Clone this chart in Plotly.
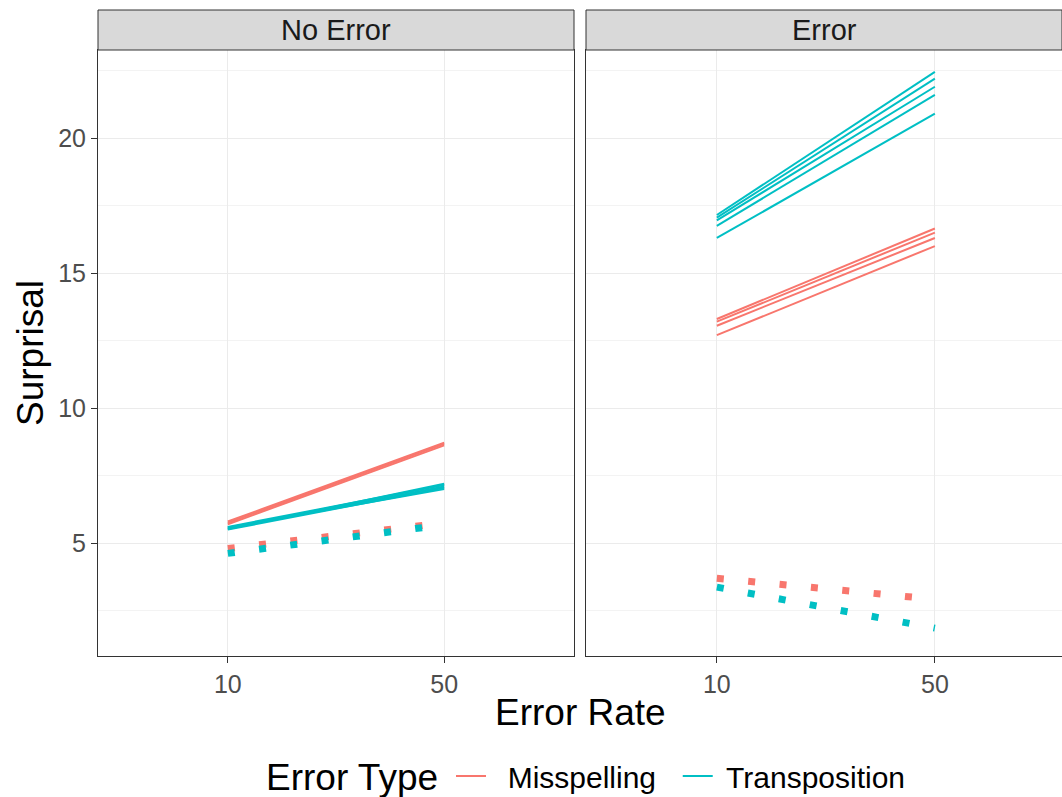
import plotly.graph_objects as go

# ---- data ----
error_rates = ["10", "50"]
panels = ["No Error", "Error"]
error_types = ["Misspelling", "Transposition"]

# solid lines (one list of [at 10, at 50] per line)
noerr_missp_solid = [[5.70, 8.62], [5.75, 8.68], [5.80, 8.72]]
noerr_trans_solid = [[5.50, 7.05], [5.55, 7.10], [5.60, 7.15], [5.52, 7.20], [5.58, 7.00]]
err_missp_solid = [[13.30, 16.65], [13.20, 16.50], [13.05, 16.30], [12.70, 16.00]]
err_trans_solid = [[17.15, 22.45], [17.05, 22.20], [16.95, 21.90], [16.75, 21.60], [16.30, 20.90]]

# dotted lines
noerr_missp_dot = [[4.80, 5.75]]
noerr_trans_dot = [[4.62, 5.68]]
err_missp_dot = [[3.70, 2.92]]
err_trans_dot = [[3.37, 1.85]]

colors = {"Misspelling": "#F8766D", "Transposition": "#00BFC4"}
legend_names = {"Misspelling": "\u00a0\u00a0Misspelling\u00a0\u00a0",
                "Transposition": "\u00a0Transposition"}
FONT = "Liberation Sans"

fig = go.Figure()
shown = set()


def add_lines(series, etype, xa, ya, dotted):
    for vals in series:
        show = (not dotted) and (etype not in shown)
        if show:
            shown.add(etype)
        if dotted:
            line = dict(color=colors[etype], width=7, dash="7px,24.5px")
        else:
            line = dict(color=colors[etype], width=2)
        fig.add_trace(go.Scatter(
            x=error_rates, y=vals, mode="lines", line=line,
            name=legend_names[etype], legendgroup=etype, showlegend=show,
            xaxis=xa, yaxis=ya, hoverinfo="skip"))


add_lines(noerr_missp_dot, "Misspelling", "x", "y", True)
add_lines(noerr_trans_dot, "Transposition", "x", "y", True)
add_lines(noerr_missp_solid, "Misspelling", "x", "y", False)
add_lines(noerr_trans_solid, "Transposition", "x", "y", False)
add_lines(err_missp_dot, "Misspelling", "x2", "y2", True)
add_lines(err_trans_dot, "Transposition", "x2", "y2", True)
add_lines(err_missp_solid, "Misspelling", "x2", "y2", False)
add_lines(err_trans_solid, "Transposition", "x2", "y2", False)

W, H = 1062, 797
ML, MR, MT, MB = 98, 0, 50, 141
plot_w = W - ML - MR
plot_h = H - MT - MB
d1_end = 476 / plot_w
d2_start = 488 / plot_w

grid = "#EBEBEB"
border = "#333333"
tickc = "#4D4D4D"

xcommon = dict(type="category", showgrid=True, gridcolor=grid, gridwidth=1.2,
               showline=True, linecolor=border, linewidth=1, mirror=True,
               ticks="outside", ticklen=6, tickcolor=border,
               tickfont=dict(family=FONT, size=25, color=tickc), zeroline=False,
               automargin=False)
ycommon = dict(range=[0.82, 23.26], tickvals=[5, 10, 15, 20],
               showgrid=True, gridcolor=grid, gridwidth=1.2,
               minor=dict(tickvals=[2.5, 7.5, 12.5, 17.5, 22.5], showgrid=True,
                          gridcolor="#F3F3F3", gridwidth=0.8, ticks=""),
               showline=True, linecolor=border, linewidth=1, mirror=True,
               zeroline=False, tickcolor=border, ticklen=6,
               tickfont=dict(family=FONT, size=25, color=tickc), automargin=False)

fig.update_layout(
    width=W, height=H,
    margin=dict(l=ML, r=MR, t=MT, b=MB, autoexpand=False),
    plot_bgcolor="white", paper_bgcolor="white",
    font=dict(family=FONT, color="black"),
    xaxis=dict(domain=[0, d1_end], range=[-0.6, 1.6], **xcommon),
    xaxis2=dict(domain=[d2_start, 1], range=[-0.6, 1.583], anchor="y2", **xcommon),
    yaxis=dict(domain=[0, 1], ticks="outside", **ycommon),
    yaxis2=dict(domain=[0, 1], anchor="x2", ticks="", showticklabels=False, **ycommon),
    legend=dict(orientation="h", x=(451 - ML) / plot_w, xanchor="left",
                y=(656 - 776) / plot_h, yanchor="middle",
                font=dict(family=FONT, size=30, color="black"),
                itemwidth=30, tracegroupgap=0),
)

strip_h = 40 / plot_h
for xa, ya, label in [("x", "y", panels[0]), ("x2", "y2", panels[1])]:
    fig.add_shape(type="rect", xref=f"{xa} domain", yref=f"{ya} domain",
                  x0=0, x1=1, y0=1, y1=1 + strip_h,
                  fillcolor="#D9D9D9", line=dict(color=border, width=1), layer="above")
    fig.add_annotation(text=label, xref=f"{xa} domain", yref=f"{ya} domain",
                       x=0.5, y=1 + strip_h / 2, showarrow=False,
                       xanchor="center", yanchor="middle",
                       font=dict(family=FONT, size=29, color="#1A1A1A"))

fig.add_annotation(text="Error Rate", xref="paper", yref="paper",
                   x=0.5, y=(656 - 712) / plot_h, showarrow=False,
                   xanchor="center", yanchor="middle",
                   font=dict(family=FONT, size=37, color="black"))
fig.add_annotation(text="Surprisal", xref="paper", yref="paper",
                   x=(30 - ML) / plot_w, y=0.5, showarrow=False, textangle=-90,
                   xanchor="center", yanchor="middle",
                   font=dict(family=FONT, size=37, color="black"))
fig.add_annotation(text="Error Type", xref="paper", yref="paper",
                   x=(264 - ML) / plot_w, y=(656 - 777) / plot_h, showarrow=False,
                   xanchor="left", yanchor="middle",
                   font=dict(family=FONT, size=37, color="black"))

fig.write_html("out.html", config={"displayModeBar": False},
               post_script="document.body.style.margin='0';document.body.style.overflow='hidden';")
